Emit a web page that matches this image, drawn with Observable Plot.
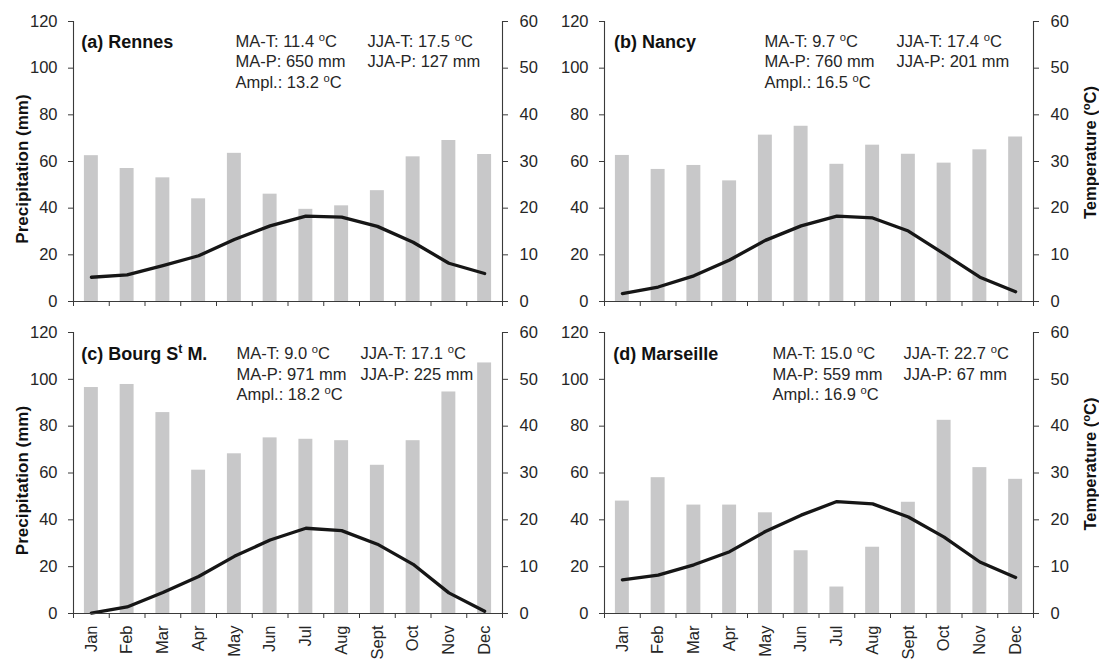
<!DOCTYPE html>
<html><head><meta charset="utf-8">
<script src="https://cdn.jsdelivr.net/npm/d3@7"></script>
<script src="https://cdn.jsdelivr.net/npm/@observablehq/plot@0.6"></script>
<style>
body{margin:0;background:#fff;}
#chart{position:relative;width:1099px;height:664px;overflow:hidden;background:#fff;}
#chart > div{position:absolute;}
</style></head><body><div id="chart"></div>
<script>
// ---------- data ----------
const months = ["Jan","Feb","Mar","Apr","May","Jun","Jul","Aug","Sept","Oct","Nov","Dec"];
const precipTicks = [0,20,40,60,80,100,120];
const tempTicks = [0,10,20,30,40,50,60];
const stationTitles = ["(a) Rennes","(b) Nancy","(c) Bourg S{t} M.","(d) Marseille"];

const rennesPrecip    = [62.5,57,53,44,63.5,46,39.5,41,47.5,62,69,63];
const rennesTemp      = [5.2,5.7,7.7,9.8,13.3,16.2,18.3,18.1,16.1,12.7,8.2,6.0];
const nancyPrecip     = [62.6,56.6,58.3,51.7,71.3,75.1,58.8,67,63.1,59.3,65,70.5];
const nancyTemp       = [1.7,3.1,5.5,8.9,13.1,16.2,18.3,17.9,15.1,10.2,5.2,2.1];
const bourgPrecip     = [96.5,97.8,85.8,61.2,68.2,75,74.4,73.8,63.3,73.8,94.6,107];
const bourgTemp       = [0.1,1.4,4.5,7.9,12.2,15.7,18.2,17.7,14.8,10.5,4.4,0.5];
const marseillePrecip = [48,58,46.3,46.3,43,26.8,11.3,28.3,47.5,82.5,62.3,57.3];
const marseilleTemp   = [7.2,8.2,10.4,13.2,17.5,21,23.9,23.4,20.6,16.3,11,7.7];

const statsMA = [
  ["MA-T: 11.4 {o}C","MA-P: 650 mm","Ampl.: 13.2 {o}C"],
  ["MA-T: 9.7 {o}C","MA-P: 760 mm","Ampl.: 16.5 {o}C"],
  ["MA-T: 9.0 {o}C","MA-P: 971 mm","Ampl.: 18.2 {o}C"],
  ["MA-T: 15.0 {o}C","MA-P: 559 mm","Ampl.: 16.9 {o}C"]
];
const statsJJA = [
  ["JJA-T: 17.5 {o}C","JJA-P: 127 mm"],
  ["JJA-T: 17.4 {o}C","JJA-P: 201 mm"],
  ["JJA-T: 17.1 {o}C","JJA-P: 225 mm"],
  ["JJA-T: 22.7 {o}C","JJA-P: 67 mm"]
];
const precipSeries = [rennesPrecip, nancyPrecip, bourgPrecip, marseillePrecip];
const tempSeries = [rennesTemp, nancyTemp, bourgTemp, marseilleTemp];
const yLabel = "Precipitation (mm)";
const y2Label = "Temperature ({o}C)";

// ---------- layout (styles) ----------
const panels = [
  {left:0,   top:0,   width:549, height:310, mt:21, mb:9,  ml:73, mr:47, showYLabel:true,  showY2Label:false, showMonths:false, tdx:7.7, c1:162, c2:294, ty:[20.5,40,61]},
  {left:549, top:0,   width:550, height:310, mt:21, mb:9,  ml:55, mr:66, showYLabel:false, showY2Label:true,  showMonths:false, tdx:9.5, c1:160, c2:292, ty:[20.5,40,61]},
  {left:0,   top:310, width:549, height:354, mt:22, mb:51, ml:73, mr:47, showYLabel:true,  showY2Label:false, showMonths:true,  tdx:7.8, c1:163, c2:287, ty:[21.5,42,62]},
  {left:549, top:310, width:550, height:354, mt:22, mb:51, ml:55, mr:66, showYLabel:false, showY2Label:true,  showMonths:true,  tdx:8.8, c1:168, c2:299, ty:[21.5,42,62]}
];

const AXIS = "#3a3a3a", TEXT = "#262626", BAR = "#c8c8c9", LINE = "#161616";
const FONT = "'Liberation Sans', Arial, Helvetica, sans-serif";

function supify(root) {
  root.querySelectorAll("text, tspan").forEach(el => {
    if (el.children.length) return;
    const s = el.textContent;
    if (!s || !s.includes("{")) return;
    el.textContent = "";
    let shifted = false;
    for (const p of s.split(/(\{[^}]*\})/)) {
      if (!p) continue;
      const t = document.createElementNS("http://www.w3.org/2000/svg", "tspan");
      if (p.startsWith("{")) {
        t.textContent = p.slice(1, -1);
        t.setAttribute("font-size", "0.68em");
        t.setAttribute("dy", "-0.55em");
        shifted = true;
      } else {
        t.textContent = p;
        if (shifted) { t.setAttribute("dy", "0.374em"); shifted = false; }
      }
      el.appendChild(t);
    }
  });
}

const chart = document.getElementById("chart");
panels.forEach((P, k) => {
  const data = months.map((m, i) => ({i, month: m, p: precipSeries[k][i], t: tempSeries[k][i]}));
  const frameW = P.width - P.ml - P.mr;
  const step = frameW / 12;
  const inset = step * 0.305;
  const txt = (s, dx, dy, extra) => Plot.text([s], Object.assign({text: d => d, frameAnchor: "top-left", dx, dy, textAnchor: "start", lineAnchor: "middle", fontSize: 16.5, fill: TEXT}, extra || {}));
  const marks = [
    Plot.rectY(data, {x1: "i", x2: d => d.i + 1, y: "p", fill: BAR, insetLeft: inset, insetRight: inset}),
    Plot.line(data, {x: d => d.i + 0.5, y: d => d.t * 2, stroke: LINE, strokeWidth: 3.3}),
    Plot.ruleY([0], {stroke: AXIS, strokeWidth: 1.1}),
    Plot.ruleX([0, 12], {stroke: AXIS, strokeWidth: 1.1}),
    Plot.axisY(precipTicks, {anchor: "left", tickSize: 5, tickPadding: 11, label: null, fontSize: 16.5, color: AXIS, fill: TEXT}),
    Plot.axisY(tempTicks.map(t => t * 2), {anchor: "right", tickFormat: v => v / 2, tickSize: 5, tickPadding: 12, label: null, fontSize: 16.5, color: AXIS, fill: TEXT}),
    Plot.axisX(d3.range(13), {anchor: "bottom", tickSize: 5, tickFormat: () => "", label: null, color: AXIS}),
    txt(stationTitles[k], P.tdx, P.ty[0], {fontWeight: "bold", fontSize: 18, fill: "#111"})
  ];
  statsMA[k].forEach((s, j) => marks.push(txt(s, P.c1, P.ty[j])));
  statsJJA[k].forEach((s, j) => marks.push(txt(s, P.c2, P.ty[j])));
  if (P.showMonths) {
    marks.push(Plot.axisX(months.map((m, i) => i + 0.5), {anchor: "bottom", tickSize: 0, tickPadding: 12, tickRotate: -90, tickFormat: v => months[Math.floor(v)], label: null, fontSize: 16.5, fill: TEXT}));
  }
  if (P.showYLabel) {
    marks.push(Plot.text([yLabel], {text: d => d, frameAnchor: "left", dx: -51, dy: 7.5, rotate: -90, textAnchor: "middle", lineAnchor: "middle", fontWeight: "bold", fontSize: 17, fill: "#111"}));
  }
  if (P.showY2Label) {
    marks.push(Plot.text([y2Label], {text: d => d, frameAnchor: "right", dx: 57, dy: -9, rotate: -90, textAnchor: "middle", lineAnchor: "middle", fontWeight: "bold", fontSize: 16.5, fill: "#111"}));
  }
  const svg = Plot.plot({
    width: P.width, height: P.height,
    marginTop: P.mt, marginBottom: P.mb, marginLeft: P.ml, marginRight: P.mr,
    x: {domain: [0, 12], axis: null},
    y: {domain: [0, 120], axis: null},
    style: {fontFamily: FONT, fontSize: "16.5px", color: TEXT, background: "transparent", overflow: "visible"},
    marks
  });
  supify(svg);
  const wrap = document.createElement("div");
  wrap.style.left = P.left + "px";
  wrap.style.top = P.top + "px";
  wrap.appendChild(svg);
  chart.appendChild(wrap);
});
</script>
</body></html>
